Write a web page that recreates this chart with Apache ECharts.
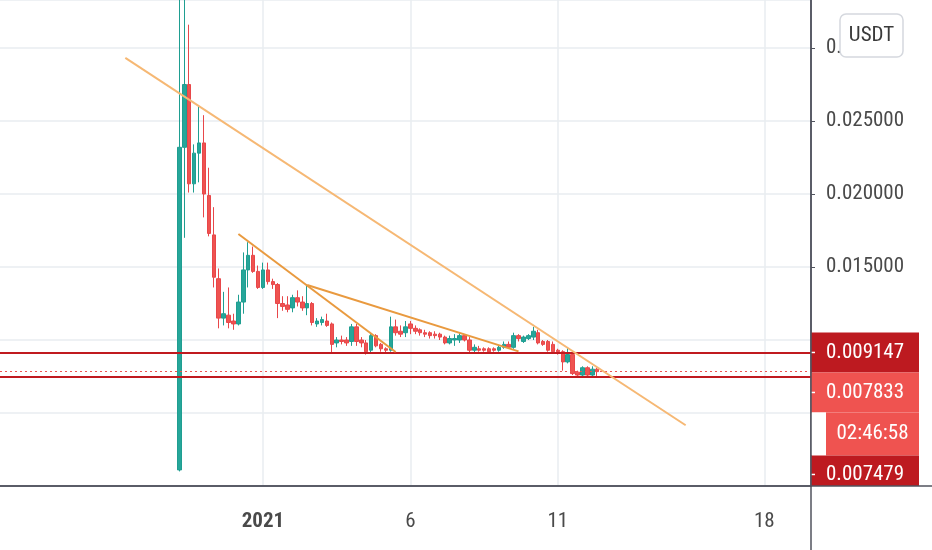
<!DOCTYPE html>
<html>
<head>
<meta charset="utf-8">
<style>
html,body{margin:0;padding:0;background:#fff}
#main{width:932px;height:550px}
</style>
<script src="https://cdn.jsdelivr.net/npm/echarts@6/dist/echarts.min.js"></script>
</head>
<body>
<div id="main"></div>
<script>
const FONT = '"Roboto Condensed","Liberation Sans Narrow","DejaVu Sans Condensed","Arial Narrow",sans-serif';
const FS = 21;

// 4小时K线，时间槽从 2020-12-23 04:00 开始
const slotStart = Date.UTC(2020, 11, 23, 4);
const slotCount = 165;
const firstCandle = '2020-12-29 04:00';

// [open, close, low, high]
const ohlc = [
  [0.0011, 0.0232, 0.0010, 0.0360],
  [0.0232, 0.0275, 0.0170, 0.0360],
  [0.0275, 0.0207, 0.0201, 0.0316],
  [0.0207, 0.0228, 0.0201, 0.0234],
  [0.0228, 0.0235, 0.0208, 0.0260],
  [0.0235, 0.0200, 0.0184, 0.0254],
  [0.0199, 0.0173, 0.0171, 0.0218],
  [0.0172, 0.0143, 0.0136, 0.0191],
  [0.0142, 0.0115, 0.0108, 0.0149],
  [0.0115, 0.0118, 0.0110, 0.0133],
  [0.0117, 0.0112, 0.0108, 0.0136],
  [0.0113, 0.0111, 0.0107, 0.0118],
  [0.0111, 0.0126, 0.0110, 0.0131],
  [0.0126, 0.0148, 0.0118, 0.0160],
  [0.0148, 0.0158, 0.0136, 0.0167],
  [0.0158, 0.0147, 0.0146, 0.0164],
  [0.0147, 0.0136, 0.0135, 0.0151],
  [0.0136, 0.0148, 0.0135, 0.0153],
  [0.0148, 0.0140, 0.0138, 0.0153],
  [0.0140, 0.0138, 0.0135, 0.0142],
  [0.0138, 0.0125, 0.0115, 0.0139],
  [0.0125, 0.0123, 0.0120, 0.0130],
  [0.0124, 0.0121, 0.0119, 0.0130],
  [0.0122, 0.0129, 0.0119, 0.0131],
  [0.0129, 0.0126, 0.0123, 0.0134],
  [0.0126, 0.0122, 0.0120, 0.0130],
  [0.0122, 0.0125, 0.0117, 0.0138],
  [0.0125, 0.0112, 0.0110, 0.0126],
  [0.0111, 0.0113, 0.0109, 0.0115],
  [0.0112, 0.0114, 0.0110, 0.0116],
  [0.0113, 0.0110, 0.0109, 0.0118],
  [0.0111, 0.0097, 0.0091, 0.0112],
  [0.0098, 0.0100, 0.0095, 0.0102],
  [0.0100, 0.0099, 0.0097, 0.0103],
  [0.0100, 0.0098, 0.0096, 0.0102],
  [0.0099, 0.0109, 0.0096, 0.0111],
  [0.0109, 0.0099, 0.0096, 0.0111],
  [0.0100, 0.0098, 0.0095, 0.0102],
  [0.0098, 0.0092, 0.0090, 0.0100],
  [0.0093, 0.0103, 0.0091, 0.0104],
  [0.0103, 0.0096, 0.0095, 0.0104],
  [0.0097, 0.0094, 0.0092, 0.0098],
  [0.0094, 0.0093, 0.0091, 0.0095],
  [0.0093, 0.0109, 0.0092, 0.0116],
  [0.0109, 0.0105, 0.0103, 0.0114],
  [0.0106, 0.0104, 0.0102, 0.0110],
  [0.0105, 0.0109, 0.0102, 0.0113],
  [0.0111, 0.0108, 0.0104, 0.0113],
  [0.0108, 0.0106, 0.0104, 0.0110],
  [0.0107, 0.0105, 0.0103, 0.0108],
  [0.0105, 0.0104, 0.0102, 0.0107],
  [0.0105, 0.0103, 0.0101, 0.0106],
  [0.0104, 0.0103, 0.0101, 0.0106],
  [0.0104, 0.0102, 0.0100, 0.0105],
  [0.0102, 0.0098, 0.0097, 0.0103],
  [0.0098, 0.0101, 0.0097, 0.0103],
  [0.0100, 0.0101, 0.0096, 0.0104],
  [0.0100, 0.0103, 0.0098, 0.0105],
  [0.0103, 0.0100, 0.0099, 0.0104],
  [0.0100, 0.0093, 0.0091, 0.0102],
  [0.0093, 0.0095, 0.0091, 0.0097],
  [0.0094, 0.0093, 0.0092, 0.0096],
  [0.0094, 0.0093, 0.0092, 0.0095],
  [0.0094, 0.0092, 0.0091, 0.0095],
  [0.0094, 0.0093, 0.0092, 0.0095],
  [0.0093, 0.0095, 0.0092, 0.0096],
  [0.0095, 0.0097, 0.0094, 0.0099],
  [0.0097, 0.0095, 0.0094, 0.0099],
  [0.0095, 0.0103, 0.0094, 0.0105],
  [0.0103, 0.0101, 0.0099, 0.0104],
  [0.0099, 0.0102, 0.0098, 0.0103],
  [0.0101, 0.0103, 0.0100, 0.0104],
  [0.0102, 0.0106, 0.0100, 0.0109],
  [0.0105, 0.0098, 0.0097, 0.0107],
  [0.0099, 0.0097, 0.0096, 0.0100],
  [0.0099, 0.0093, 0.0092, 0.0100],
  [0.0097, 0.0092, 0.0091, 0.0099],
  [0.0093, 0.0092, 0.0090, 0.0094],
  [0.0092, 0.0085, 0.0079, 0.0093],
  [0.0085, 0.0090, 0.0084, 0.0095],
  [0.0090, 0.0077, 0.0076, 0.0091],
  [0.0078, 0.0076, 0.0075, 0.0079],
  [0.0076, 0.0081, 0.0075, 0.0082],
  [0.0081, 0.0076, 0.0075, 0.0082],
  [0.0076, 0.0080, 0.0075, 0.0082],
  [0.0080, 0.007833, 0.0075, 0.0081]
];

// 两条红色水平线和当前价
const levels = [0.009147, 0.007479];
const lastPrice = 0.007833;
const countdown = '02:46:58';
const currency = 'USDT';

// 趋势线：起点、终点（时间, 价格）
const trendLines = [
  {from: ['2020-12-27 08:00', 0.02932], to: ['2021-01-15 08:00', 0.00416], color: '#f6b874'},
  {from: ['2020-12-31 04:00', 0.01726], to: ['2021-01-05 12:00', 0.00918], color: '#e99a3f'},
  {from: ['2021-01-02 12:00', 0.01377], to: ['2021-01-09 16:00', 0.00922], color: '#e99a3f'}
];

const xTicks = {
  '2021-01-01 00:00': '2021',
  '2021-01-06 00:00': '6',
  '2021-01-11 00:00': '11',
  '2021-01-18 00:00': '18'
};

const pad = n => (n < 10 ? '0' : '') + n;
const fmt = ms => {
  const d = new Date(ms);
  return d.getUTCFullYear() + '-' + pad(d.getUTCMonth() + 1) + '-' + pad(d.getUTCDate()) +
    ' ' + pad(d.getUTCHours()) + ':' + pad(d.getUTCMinutes());
};

const categories = [];
for (let i = 0; i < slotCount; i++) categories.push(fmt(slotStart + i * 4 * 3600 * 1000));

const startIdx = categories.indexOf(firstCandle);
const candleData = categories.map((c, i) => {
  const k = i - startIdx;
  return k >= 0 && k < ohlc.length ? ohlc[k] : '-';
});

const showTick = (idx, val) => xTicks[val] !== undefined;

const GRID_RIGHT = 121, GRID_BOTTOM = 64;
const W = 932, H = 550;
const axisX = W - GRID_RIGHT, axisY = H - GRID_BOTTOM;

const option = {
  animation: false,
  backgroundColor: '#fff',
  grid: {left: 0, right: GRID_RIGHT, top: 0, bottom: GRID_BOTTOM},
  xAxis: {
    type: 'category',
    data: categories,
    boundaryGap: true,
    axisLine: {lineStyle: {color: '#50535e', width: 1.5}},
    axisTick: {alignWithLabel: true, interval: showTick, length: 6, lineStyle: {color: '#50535e', width: 1.5}},
    axisLabel: {
      interval: showTick,
      margin: 25,
      color: '#4a4a4a',
      fontFamily: FONT,
      fontSize: FS,
      formatter: v => (xTicks[v] === '2021' ? '{b|2021}' : xTicks[v]),
      rich: {b: {fontWeight: 'bold', fontFamily: FONT, fontSize: FS, color: '#4a4a4a'}}
    },
    splitLine: {show: true, alignWithLabel: true, interval: showTick, lineStyle: {color: '#e9ecf1', width: 1.5}}
  },
  yAxis: {
    type: 'value',
    position: 'right',
    min: 0,
    max: 0.03329,
    interval: 0.005,
    axisLine: {show: true, lineStyle: {color: '#50535e', width: 1.5}},
    axisTick: {show: true, length: 4, lineStyle: {color: '#50535e'}},
    axisLabel: {
      margin: 15,
      color: '#4a4a4a',
      fontFamily: FONT,
      fontSize: FS,
      showMinLabel: false,
      showMaxLabel: false,
      // 被价格标签挡住的刻度不显示
      formatter: v => (v < levels[0] + 0.0012 ? '' : v.toFixed(6))
    },
    splitLine: {lineStyle: {color: '#e9ecf1', width: 1.5}}
  },
  series: [
    {
      type: 'candlestick',
      data: candleData,
      barWidth: 4,
      clip: true,
      itemStyle: {
        color: '#26a69a', color0: '#ef5350',
        borderColor: '#1f9e91', borderColor0: '#e8474a', borderWidth: 1
      },
      markLine: {
        silent: true,
        precision: 6,
        symbol: ['none', 'none'],
        label: {show: false},
        data: [
          {yAxis: levels[0], lineStyle: {color: '#c01a1f', width: 2, type: 'solid'}},
          {yAxis: levels[1], lineStyle: {color: '#c01a1f', width: 2, type: 'solid'}},
          {yAxis: lastPrice, lineStyle: {color: '#ef5350', width: 1, type: [2, 3]}}
        ]
      }
    }
  ].concat(trendLines.map(t => ({
    type: 'line',
    data: [t.from, t.to],
    symbol: 'none',
    silent: true,
    z: 5,
    lineStyle: {color: t.color, width: 2}
  })))
};

const chart = echarts.init(document.getElementById('main'));
chart.setOption(option);

// 右侧价格标签
const py = v => chart.convertToPixel({yAxisIndex: 0}, v);
const DARK = '#bd1a20', LIGHT = '#ef5350';
const BOX_R = 919;
const rect = (x, y, w, h, fill) => ({type: 'rect', shape: {x: x, y: y, width: w, height: h}, style: {fill: fill}});
const txt = (x, y, s, align) => ({type: 'text', x: x, y: y,
  style: {text: s, fill: '#fff', font: FS + 'px ' + FONT, align: align || 'left', verticalAlign: 'middle'}});
const tick = y => ({type: 'line', shape: {x1: axisX, y1: y, x2: axisX + 4, y2: y}, style: {stroke: '#fff', lineWidth: 1.5}});

const top1 = py(levels[0]) - 20;
const top2 = top1 + 40, top3 = top2 + 40, top4 = top3 + 43;
const graphics = [
  rect(axisX, top1, BOX_R - axisX, 40, DARK), txt(axisX + 15, top1 + 20, levels[0].toFixed(6)), tick(top1 + 20),
  rect(axisX, top2, BOX_R - axisX, 40, LIGHT), txt(axisX + 15, top2 + 20, lastPrice.toFixed(6)), tick(top2 + 20),
  rect(axisX, top3, 15, 43, '#fff'),
  rect(axisX + 15, top3, BOX_R - axisX - 15, 43, LIGHT), txt((axisX + 15 + BOX_R) / 2, top3 + 21.5, countdown, 'center'),
  rect(axisX, top4, BOX_R - axisX, axisY - top4, DARK), txt(axisX + 15, top4 + 19, levels[1].toFixed(6)), tick(top4 + 19),
  // 坐标轴分隔线延伸
  {type: 'line', shape: {x1: axisX, y1: 0, x2: axisX, y2: H}, style: {stroke: '#50535e', lineWidth: 1.5}},
  {type: 'line', shape: {x1: 0, y1: axisY, x2: W, y2: axisY}, style: {stroke: '#50535e', lineWidth: 1.5}},
  // 货币按钮
  {type: 'rect', shape: {x: 840, y: 14, width: 63, height: 43, r: 6},
    style: {fill: '#fff', stroke: '#d5d8de', lineWidth: 1.5}},
  {type: 'text', x: 871.5, y: 35.5,
    style: {text: currency, fill: '#3a3a3a', font: FS + 'px ' + FONT, align: 'center', verticalAlign: 'middle'}}
];
chart.setOption({graphic: graphics.map(g => Object.assign({z: 100}, g))});
</script>
</body>
</html>
